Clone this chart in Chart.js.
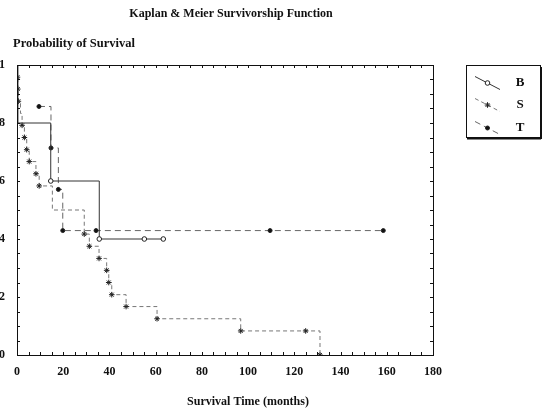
<!DOCTYPE html>
<html>
<head>
<meta charset="utf-8">
<script src="https://cdn.jsdelivr.net/npm/chart.js@4/dist/chart.umd.min.js"></script>
<style>
html, body { margin: 0; padding: 0; background: #fff; overflow: hidden; }
#wrap { position: absolute; left: -10px; top: 0; width: 552px; height: 413px; }
</style>
</head>
<body>
<div id="wrap"><canvas id="km" width="552" height="413"></canvas></div>
<script>
// survival curves (time in months, survival probability)
const timesB = [0, 0.4, 14.6, 35.6, 55.1, 63.3];
const survB  = [1, 0.8, 0.6, 0.4, 0.4, 0.4];
const markB  = [0, 0, 1, 1, 1, 1];

const timesS = [0, 0.2, 0.35, 0.6, 1.5, 2.2, 3.2, 4.2, 5.3, 8.2, 9.6, 15.3, 29.1, 31.3, 35.5, 38.8, 39.7, 41.0, 47.2, 60.6, 96.8, 124.9, 131.1];
const survS  = [1, 0.958, 0.917, 0.875, 0.833, 0.792, 0.75, 0.708, 0.667, 0.625, 0.583, 0.5, 0.417, 0.375, 0.333, 0.292, 0.25, 0.208, 0.167, 0.125, 0.083, 0.083, 0];
const markS  = [0, 1, 1, 1, 0, 1, 1, 1, 1, 1, 1, 0, 1, 1, 1, 1, 1, 1, 1, 1, 1, 1, 1];

const timesT = [9.5, 14.7, 17.9, 19.8, 34.2, 109.5, 158.5];
const survT  = [0.857, 0.714, 0.571, 0.429, 0.429, 0.429, 0.429];
const markT  = [1, 1, 1, 1, 1, 1, 1];

const groupNames = ['B', 'S', 'T'];
const xTicks = [0, 20, 40, 60, 80, 100, 120, 140, 160, 180];
const yTickLabels = { 0: '0', 0.2: '.2', 0.4: '.4', 0.6: '.6', 0.8: '.8', 1: '1' };

const serif = '"Liberation Serif", "DejaVu Serif", serif';

const toPoints = (times, surv) => times.map((t, i) => ({ x: t, y: surv[i] }));

const styles = [
	{ color: '#333', dash: [], pointStyle: 'circle', radius: 2.3, fill: '#fff' },
	{ color: '#777', dash: [4, 3], pointStyle: 'star', radius: 2.8, fill: '#222' },
	{ color: '#666', dash: [6, 4], pointStyle: 'circle', radius: 2, fill: '#111' }
];

const makeDataset = (label, times, surv, marks, st) => ({
	label: label,
	data: toPoints(times, surv),
	// horizontal first, then drop at the event time
	stepped: 'before',
	borderColor: st.color,
	borderWidth: 1,
	borderDash: st.dash,
	pointStyle: st.pointStyle,
	pointRadius: marks.map(m => m ? st.radius : 0),
	pointBorderColor: '#222',
	pointBorderWidth: 1,
	pointBackgroundColor: st.fill,
	fill: false
});

const decor = {
	id: 'decor',
	afterDraw(chart) {
		const { ctx, chartArea: a, scales: { x, y } } = chart;
		const line = (x1, y1, x2, y2) => { ctx.beginPath(); ctx.moveTo(x1, y1); ctx.lineTo(x2, y2); ctx.stroke(); };
		ctx.save();
		ctx.strokeStyle = '#111';
		ctx.lineWidth = 1;
		ctx.setLineDash([]);
		// frame
		ctx.strokeRect(a.left + 0.5, a.top + 0.5, a.right - a.left, a.bottom - a.top);
		// small inward ticks
		for (let t = 0; t <= 180; t += 5) {
			const px = Math.round(x.getPixelForValue(t)) + 0.5;
			line(px, a.bottom, px, a.bottom - 3);
			line(px, a.top, px, a.top + 3);
		}
		for (let i = 0; i <= 20; i++) {
			const py = Math.round(y.getPixelForValue(i * 0.05)) + 0.5;
			line(a.left, py, a.left + 3, py);
			line(a.right, py, a.right - 3, py);
		}

		// texts
		ctx.fillStyle = '#111';
		ctx.textBaseline = 'middle';
		ctx.textAlign = 'center';
		ctx.font = 'bold 12px ' + serif;
		ctx.fillText('Kaplan & Meier Survivorship Function', 241, 14);
		ctx.fillText('Survival Time (months)', 258, 402);
		ctx.textAlign = 'left';
		ctx.font = 'bold 12.5px ' + serif;
		ctx.fillText('Probability of Survival', 23, 44);

		// legend box
		const bx = 476, by = 65, bw = 74, bh = 72;
		ctx.lineWidth = 1;
		ctx.strokeRect(bx + 0.5, by + 0.5, bw, bh);
		ctx.lineWidth = 2;
		line(bx + 1, by + bh + 1.5, bx + bw + 1, by + bh + 1.5);
		line(bx + bw + 1.5, by + 2, bx + bw + 1.5, by + bh + 2);
		const rows = [83, 105, 128];
		chart.data.datasets.forEach((ds, i) => {
			const st = styles[i];
			const cy = rows[i];
			ctx.lineWidth = 1;
			ctx.strokeStyle = st.color;
			ctx.setLineDash(st.dash);
			line(485, cy - 6.5, 510, cy + 6.5);
			ctx.setLineDash([]);
			ctx.strokeStyle = '#222';
			ctx.fillStyle = st.fill;
			Chart.helpers.drawPoint(ctx, { pointStyle: st.pointStyle, radius: st.radius, rotation: 0, borderWidth: 1 }, 497.5, cy);
			ctx.fillStyle = '#111';
			ctx.font = 'bold 13px ' + serif;
			ctx.textAlign = 'center';
			ctx.fillText(groupNames[i], 530, cy);
		});
		ctx.restore();
	}
};

new Chart(document.getElementById('km'), {
	type: 'line',
	data: {
		datasets: [
			makeDataset(groupNames[0], timesB, survB, markB, styles[0]),
			makeDataset(groupNames[1], timesS, survS, markS, styles[1]),
			makeDataset(groupNames[2], timesT, survT, markT, styles[2])
		]
	},
	options: {
		responsive: false,
		animation: false,
		devicePixelRatio: 1,
		layout: { padding: { left: 0, right: 109, top: 65, bottom: 0 } },
		plugins: {
			legend: { display: false },
			tooltip: { enabled: false },
			title: { display: false }
		},
		scales: {
			x: {
				type: 'linear',
				min: 0,
				max: 180,
				afterFit: (s) => { s.height = 58; },
				afterBuildTicks: (s) => { s.ticks = xTicks.map(v => ({ value: v })); },
				grid: { display: false, drawTicks: false },
				border: { display: true, color: '#111', width: 1 },
				ticks: { padding: 10, color: '#111', font: { family: serif, size: 12, weight: 'bold' }, maxRotation: 0 }
			},
			y: {
				type: 'linear',
				min: 0,
				max: 1,
				afterFit: (s) => { s.width = 27; },
				grid: { display: false, drawTicks: false },
				border: { display: true, color: '#111', width: 1 },
				ticks: {
					stepSize: 0.2,
					padding: 12,
					color: '#111',
					font: { family: serif, size: 12, weight: 'bold' },
					callback: (v) => yTickLabels[Math.round(v * 10) / 10]
				}
			}
		}
	},
	plugins: [decor]
});
</script>
</body>
</html>
